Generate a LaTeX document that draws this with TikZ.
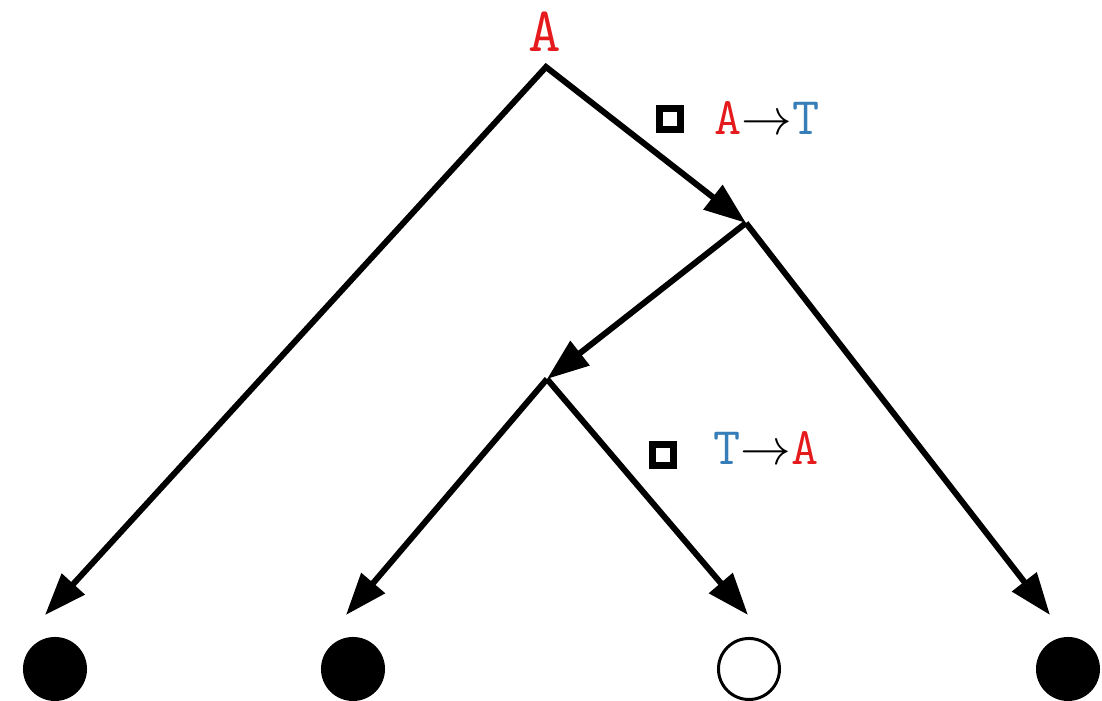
\documentclass[tikz,border=0pt]{standalone}
\usepackage{tikz}
\usetikzlibrary{arrows.meta}
\definecolor{mutred}{HTML}{E41A1C}
\definecolor{mutblue}{HTML}{377EB8}

\begin{document}
\begin{tikzpicture}[x=0.01cm,y=-0.01cm,>={Triangle[length=4.2mm,width=3mm]},
branch/.style={line width=1.7pt},
leaf/.style={circle,draw,line width=0.85pt,minimum size=6.1mm,inner sep=0pt},
hit/.style={leaf,fill=black},
miss/.style={leaf,fill=white},
flag/.style={draw,line width=2pt,minimum size=2.1mm,inner sep=0pt},
state/.style={font=\ttfamily\fontsize{18}{20}\selectfont},
mut/.style={font=\fontsize{15}{18}\selectfont,anchor=base,inner sep=0pt}]
\useasboundingbox (0,0) rectangle (1102,701);
\node[state,text=mutred] (rootlbl) at (545,32) {A};
\coordinate (root) at (546,67);
\coordinate (split1) at (746,223);
\coordinate (split2) at (547,379);
\coordinate (tip1) at (45,615);
\coordinate (tip2) at (346,615);
\coordinate (tip3) at (748,615);
\coordinate (tip4) at (1050,615);
\node[hit] (leaf1) at (55,669) {};
\node[hit] (leaf2) at (353,669) {};
\node[miss] (leaf3) at (749,669) {};
\node[hit] (leaf4) at (1068,669) {};
\draw[branch,<->] (tip1) -- (root) -- (split1);
\draw[branch,->] (split1) -- (split2);
\draw[branch,->] (split1) -- (tip4);
\draw[branch,->] (split2) -- (tip2);
\draw[branch,->] (split2) -- (tip3);
\node[flag] (mark1) at (670,119) {};
\node[mut] (change1) at (767,135) {\texttt{\textcolor{mutred}{A}}$\rightarrow$\texttt{\textcolor{mutblue}{T}}};
\node[flag] (mark2) at (663,455) {};
\node[mut] (change2) at (766,465) {\texttt{\textcolor{mutblue}{T}}$\rightarrow$\texttt{\textcolor{mutred}{A}}};
\end{tikzpicture}
\end{document}
